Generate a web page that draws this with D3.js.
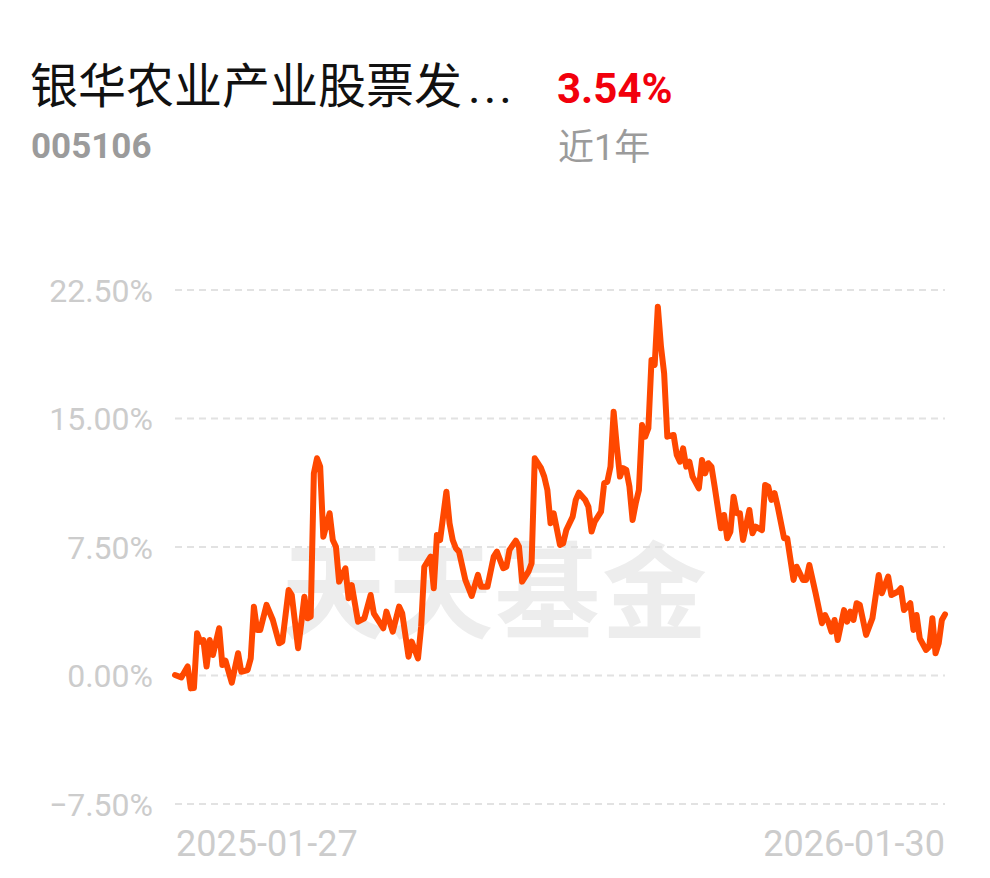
<!DOCTYPE html>
<html>
<head>
<meta charset="utf-8">
<script src="https://cdn.jsdelivr.net/npm/d3@7"></script>
<style>
  body { margin: 0; background: #fff; }
  svg { display: block; }
  text { font-family: Roboto, "Noto Sans CJK SC", sans-serif; }
</style>
</head>
<body>
<div id="chart"></div>
<script>
'use strict';

// fund info
let fundName = '银华农业产业股票发';
let fundCode = '005106';
let periodReturn = '3.54%';
let periodLabel = '近1年';

// axes
let yTicks = [-7.5, 0, 7.5, 15, 22.5];
let xLabels = ['2025-01-27', '2026-01-30'];
let totalDays = 244;

// trading day index and cumulative return in %
let days = [0, 2, 4, 5, 6, 7, 8, 9, 10, 11, 12, 14, 15, 16, 18, 20, 21, 23, 24, 25,
    26, 27, 29, 31, 33, 34, 36, 37, 39, 40, 41, 42, 43, 44, 45, 46, 47, 49, 50, 51,
    52, 54, 55, 56, 58, 60, 62, 63, 66, 67, 69, 71, 72, 74, 75, 77, 78, 79, 81, 82,
    83, 84, 86, 87, 88, 89, 90, 92, 94, 96, 97, 99, 101, 102, 104, 105, 106, 108, 109, 110,
    111, 112, 113, 114, 116, 117, 118, 119, 120, 122, 123, 124, 126, 127, 128, 130, 131, 132, 133, 134,
    135, 136, 137, 138, 139, 140, 141, 142, 143, 144, 145, 146, 147, 148, 149, 150, 151, 152, 153, 154,
    155, 156, 158, 159, 160, 161, 162, 163, 164, 166, 167, 168, 169, 170, 171, 173, 174, 175, 176, 177,
    178, 179, 180, 182, 183, 184, 186, 187, 188, 189, 190, 191, 193, 194, 196, 197, 199, 200, 201, 203,
    205, 206, 207, 208, 209, 210, 212, 213, 214, 215, 216, 217, 219, 221, 223, 224, 226, 227, 229, 230,
    231, 233, 234, 235, 236, 238, 239, 240, 241, 242, 243, 244];
let returns = [0.00, -0.14, 0.50, -0.78, -0.76, 2.43, 1.95, 2.04, 0.49, 2.04, 1.17, 2.73, 0.58, 0.84, -0.45, 1.27, 0.19, 0.29, 0.97, 3.99,
    2.63, 2.63, 4.09, 3.21, 1.85, 1.95, 4.96, 4.67, 1.56, 3.02, 4.57, 3.31, 3.41, 11.77, 12.65, 12.16, 8.07, 9.44, 7.88, 7.49,
    5.45, 6.23, 4.48, 5.25, 3.11, 3.31, 4.67, 3.60, 2.73, 3.70, 2.53, 3.99, 3.60, 1.07, 1.95, 0.97, 2.82, 6.32, 6.91, 5.06,
    8.17, 7.88, 10.70, 8.86, 7.88, 7.40, 7.20, 5.55, 4.61, 5.84, 5.15, 5.15, 6.91, 7.20, 6.23, 6.32, 7.30, 7.84, 7.49, 5.45,
    5.74, 6.03, 6.52, 12.65, 12.07, 11.58, 10.80, 8.86, 9.44, 7.59, 7.69, 8.46, 9.24, 10.22, 10.64, 10.22, 9.82, 8.37, 8.95, 9.24,
    9.53, 11.19, 11.28, 12.16, 15.37, 13.33, 11.58, 12.07, 11.97, 11.00, 9.05, 10.02, 10.80, 14.59, 13.91, 14.40, 18.39, 18.10, 21.50, 19.16,
    17.60, 13.91, 14.01, 12.84, 12.45, 13.23, 12.16, 12.45, 11.58, 10.90, 12.55, 11.77, 12.36, 12.16, 11.00, 8.56, 9.34, 7.98, 8.37, 10.41,
    9.44, 9.44, 7.88, 9.63, 8.27, 8.66, 8.46, 11.09, 10.99, 10.22, 10.61, 9.82, 7.98, 7.98, 5.55, 6.32, 5.55, 5.55, 6.42, 4.77,
    3.02, 3.50, 3.11, 2.53, 3.21, 2.04, 3.79, 3.11, 3.70, 3.21, 4.19, 4.09, 2.34, 3.31, 5.84, 4.77, 5.74, 4.67, 4.86, 5.06,
    3.79, 4.19, 2.63, 3.50, 2.14, 1.46, 1.65, 3.31, 1.27, 1.85, 3.21, 3.54];

draw();

function draw() {
    let width = 990, height = 878;
    let plot = {left: 175, right: 945, top: 289.5, bottom: 803.5};

    let svg = d3.select('#chart')
        .append('svg')
        .attr('width', width)
        .attr('height', height);

    // header
    let title = svg.append('text')
        .attr('x', 30).attr('y', 103)
        .attr('font-size', 48)
        .attr('fill', '#111');
    title.append('tspan').text(fundName);
    title.append('tspan')
        .attr('dx', 6)
        .attr('letter-spacing', 3)
        .text('...');
    svg.append('text')
        .attr('x', 557).attr('y', 103)
        .attr('font-size', 42)
        .attr('font-weight', 700)
        .attr('fill', '#f2000c')
        .text(periodReturn);
    svg.append('text')
        .attr('x', 31).attr('y', 158)
        .attr('font-size', 35)
        .attr('font-weight', 700)
        .attr('fill', '#9b9b9b')
        .text(fundCode);
    svg.append('text')
        .attr('x', 558).attr('y', 160)
        .attr('font-size', 36)
        .attr('fill', '#9b9b9b')
        .text(periodLabel);

    let x = d3.scaleLinear()
        .domain([0, totalDays])
        .range([plot.left, plot.right]);
    let y = d3.scaleLinear()
        .domain([-7.5, 22.5])
        .range([plot.bottom, plot.top]);

    // watermark
    svg.append('text')
        .attr('x', 495).attr('y', 630)
        .attr('text-anchor', 'middle')
        .attr('font-size', 105)
        .attr('font-weight', 700)
        .attr('font-family', '"Noto Sans CJK SC", sans-serif')
        .attr('fill', '#ededed')
        .attr('letter-spacing', 2)
        .text('天天基金');

    // y axis with dashed grid
    let yAxis = d3.axisLeft(y)
        .tickValues(yTicks)
        .tickSize(-(plot.right - plot.left))
        .tickPadding(22)
        .tickFormat(function (d) {
            return d3.format('.2f')(d) + '%';
        });
    let gy = svg.append('g')
        .attr('transform', 'translate(' + plot.left + ',0)')
        .call(yAxis);
    gy.select('.domain').remove();
    gy.selectAll('.tick line')
        .attr('stroke', '#e2e2e2')
        .attr('stroke-width', 2)
        .attr('stroke-dasharray', '7,5');
    gy.selectAll('.tick text')
        .attr('font-size', 32)
        .attr('font-family', '"Liberation Sans", Arial, sans-serif')
        .attr('fill', '#cccccc')
        .attr('dy', '0.36em');

    // x labels: first and last date
    svg.selectAll('.x-label')
        .data(xLabels)
        .enter()
        .append('text')
        .attr('class', 'x-label')
        .attr('x', function (d, i) { return i === 0 ? x(0) + 1 : x(totalDays); })
        .attr('y', 856)
        .attr('text-anchor', function (d, i) { return i === 0 ? 'start' : 'end'; })
        .attr('font-size', 36)
        .attr('fill', '#cccccc')
        .text(function (d) { return d; });

    // return line
    let line = d3.line()
        .x(function (d) { return x(d.day); })
        .y(function (d) { return y(d.value); });
    let series = days.map(function (d, i) {
        return {day: d, value: returns[i]};
    });
    svg.append('path')
        .datum(series)
        .attr('d', line)
        .attr('fill', 'none')
        .attr('stroke', '#ff4800')
        .attr('stroke-width', 6)
        .attr('stroke-linejoin', 'round')
        .attr('stroke-linecap', 'round');
}
</script>
</body>
</html>
